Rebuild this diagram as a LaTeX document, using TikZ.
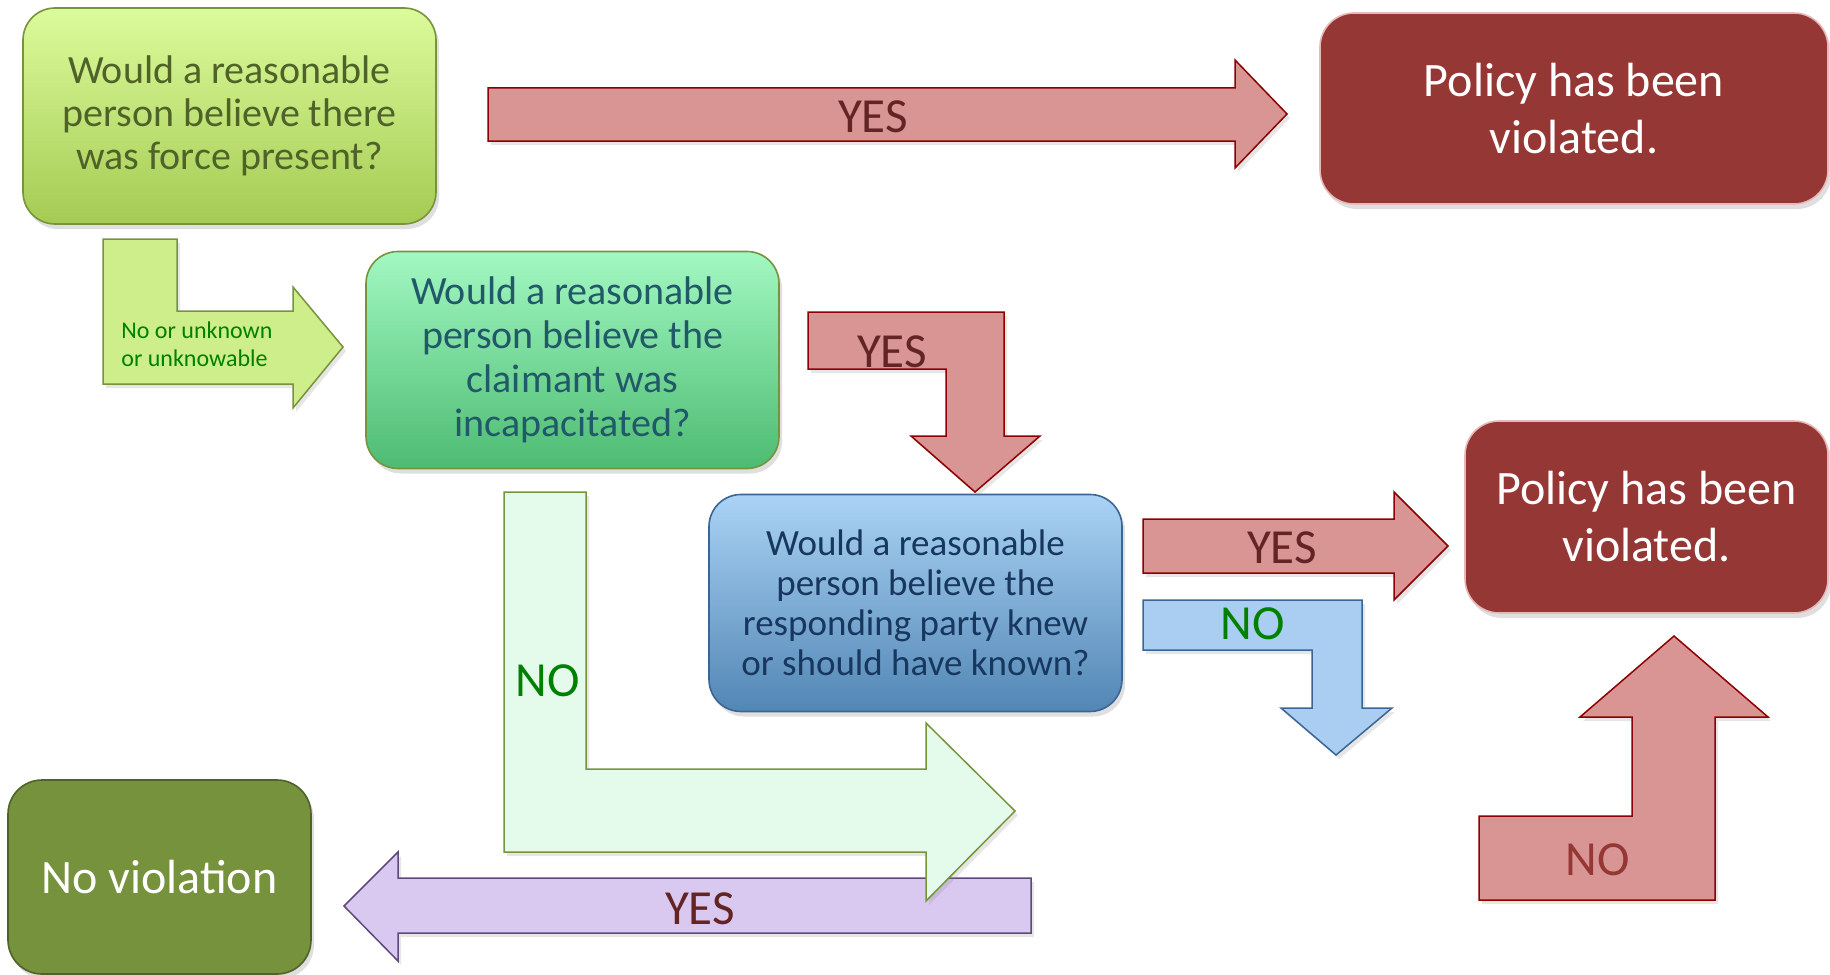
\documentclass[tikz,border=0pt]{standalone}
\usepackage{fontspec}
\setmainfont{Carlito}
\usetikzlibrary{shadows}
\definecolor{g1top}{HTML}{DCFB9C}
\definecolor{g1bot}{HTML}{A5CB53}
\definecolor{g2top}{HTML}{A2F8C2}
\definecolor{g2bot}{HTML}{4DBB72}
\definecolor{b3top}{HTML}{AAD3F5}
\definecolor{b3bot}{HTML}{5286B4}
\definecolor{olive}{HTML}{77933C}
\definecolor{darkolive}{HTML}{4F6228}
\definecolor{tealtxt}{HTML}{215968}
\definecolor{navytxt}{HTML}{17375E}
\definecolor{bluebrd}{HTML}{3C6596}
\definecolor{policy}{HTML}{953735}
\definecolor{policybrd}{HTML}{E6B9B8}
\definecolor{noviol}{HTML}{76923C}
\definecolor{redfill}{HTML}{D99594}
\definecolor{redbrd}{HTML}{8B0000}
\definecolor{yestxt}{HTML}{632523}
\definecolor{notxtred}{HTML}{953735}
\definecolor{lgreenfill}{HTML}{CDEE8B}
\definecolor{mintfill}{HTML}{E4FBEB}
\definecolor{purplefill}{HTML}{D9C9F0}
\definecolor{purplebrd}{HTML}{5F497A}
\definecolor{bluefill}{HTML}{A9CEF2}
\definecolor{greentxt}{HTML}{008000}
\tikzset{
  qbox/.style={rectangle, rounded corners=16pt, line width=0.8pt, align=center, inner sep=0pt,
    drop shadow={opacity=0.25, shadow xshift=1.5pt, shadow yshift=-2.5pt}},
  pbox/.style={rectangle, rounded corners=17pt, fill=policy, draw=policybrd, line width=0.8pt,
    text=white, align=center, inner sep=0pt, font=\fontsize{24}{28.5}\selectfont,
    drop shadow={opacity=0.25, shadow xshift=1.5pt, shadow yshift=-2.5pt}},
  blockarrow/.style={line width=0.75pt, line join=miter,
    drop shadow={opacity=0.2, shadow xshift=1.5pt, shadow yshift=-2pt}},
  redarrow/.style={blockarrow, fill=redfill, draw=redbrd},
  biglabel/.style={inner sep=0pt, font=\fontsize{24.5}{28}\selectfont},
}
\begin{document}
\begin{tikzpicture}[x=0.5pt, y=-0.5pt]
\useasboundingbox (0,0) rectangle (1830,974);

% boxes
\node[qbox, top color=g1top, bottom color=g1bot, draw=olive, text=darkolive,
  minimum width=206.5pt, minimum height=108pt, font=\fontsize{20}{21.5}\selectfont]
  (q1) at (229.5,116) {Would a reasonable\\person believe there\\was force present?};
\node[pbox, minimum width=254pt, minimum height=95.5pt] (p1) at (1574,108.5) {Policy has been\\violated.};
\node[qbox, top color=g2top, bottom color=g2bot, draw=olive, text=tealtxt,
  minimum width=206.5pt, minimum height=108.5pt, font=\fontsize{20}{22}\selectfont]
  (q2) at (572.5,360) {Would a reasonable\\person believe the\\claimant was\\incapacitated?};
\node[qbox, top color=b3top, bottom color=b3bot, draw=bluebrd, text=navytxt,
  minimum width=206.5pt, minimum height=108.5pt, font=\fontsize{18.5}{20}\selectfont]
  (q3) at (915.5,603) {Would a reasonable\\person believe the\\responding party knew\\or should have known?};
\node[pbox, minimum width=181.5pt, minimum height=96pt] (p2) at (1646.5,517) {Policy has been\\violated.};
\node[qbox, rounded corners=17pt, fill=noviol, draw=darkolive, text=white,
  minimum width=151.5pt, minimum height=97pt, font=\fontsize{24}{28}\selectfont]
  (nv) at (159.5,877) {No violation};

% top YES arrow
\draw[redarrow] (488,88) -- (1235,88) -- (1235,60) -- (1287,114) -- (1235,168) -- (1235,141) -- (488,141) -- cycle;
\node[biglabel, text=yestxt] (yes1) at (873,117) {YES};

% small green L arrow
\draw[blockarrow, fill=lgreenfill, draw=olive] (103,239) -- (177,239) -- (177,311) -- (293,311) -- (293,287) -- (343,347) -- (293,408) -- (293,384) -- (103,384) -- cycle;
\node[inner sep=0pt, text=greentxt, align=left, anchor=west, font=\fontsize{12}{14}\selectfont] (unk) at (121,344) {No or unknown\\or unknowable};

% red L down arrow
\draw[redarrow] (808,312) -- (1004,312) -- (1004,436) -- (1040,436) -- (975,492) -- (911,436) -- (946,436) -- (946,369) -- (808,369) -- cycle;
\node[biglabel, text=yestxt] (yes2) at (892,352) {YES};

% purple YES arrow
\draw[blockarrow, fill=purplefill, draw=purplebrd] (1031,878) -- (398,878) -- (398,852) -- (344,906) -- (398,961) -- (398,933) -- (1031,933) -- cycle;
\node[biglabel, text=yestxt] (yes3) at (700,909) {YES};

% big mint L arrow
\draw[blockarrow, fill=mintfill, draw=olive] (504,492) -- (586,492) -- (586,769) -- (926,769) -- (926,723) -- (1015,811) -- (926,901) -- (926,852) -- (504,852) -- cycle;
\node[biglabel, text=greentxt] (no1) at (548,681) {NO};

% YES arrow right of q3
\draw[redarrow] (1143,519) -- (1394,519) -- (1394,492) -- (1448,546) -- (1394,600) -- (1394,573) -- (1143,573) -- cycle;
\node[biglabel, text=yestxt] (yes4) at (1282,548) {YES};

% blue NO L arrow
\draw[blockarrow, fill=bluefill, draw=bluebrd] (1143,600) -- (1362,600) -- (1362,708) -- (1392,708) -- (1336,755) -- (1281,708) -- (1312,708) -- (1312,650) -- (1143,650) -- cycle;
\node[biglabel, text=greentxt] (no2) at (1253,624) {NO};

% red NO up arrow
\draw[redarrow] (1479,816) -- (1632,816) -- (1632,717) -- (1580,717) -- (1674,636) -- (1768,717) -- (1715,717) -- (1715,900) -- (1479,900) -- cycle;
\node[biglabel, text=notxtred] (no3) at (1598,860) {NO};
\end{tikzpicture}
\end{document}
